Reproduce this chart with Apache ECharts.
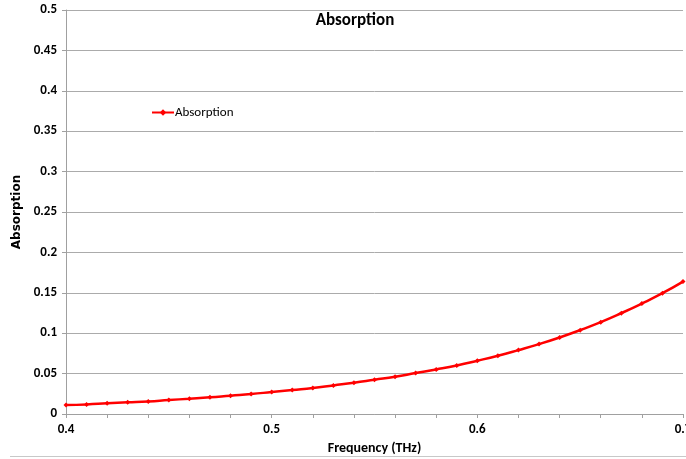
<!DOCTYPE html>
<html><head><meta charset="utf-8">
<script src="https://cdn.jsdelivr.net/npm/echarts@6/dist/echarts.min.js"></script>
<style>html,body{margin:0;padding:0;background:#fff}#c{width:686px;height:459px}</style>
</head><body><div id="c"></div>
<script>
var frequency = [0.40,0.41,0.42,0.43,0.44,0.45,0.46,0.47,0.48,0.49,0.50,0.51,0.52,0.53,0.54,0.55,0.56,0.57,0.58,0.59,0.60,0.61,0.62,0.63,0.64,0.65,0.66,0.67,0.68,0.69,0.70];
var absorption = [0.0111,0.0119,0.0132,0.0144,0.0156,0.0173,0.0189,0.0206,0.0227,0.0247,0.0272,0.0297,0.0321,0.0354,0.0387,0.0424,0.0461,0.0507,0.0552,0.0601,0.0659,0.0721,0.0791,0.0865,0.0947,0.1038,0.1137,0.1248,0.1367,0.1495,0.1639];
var seriesName = 'Absorption';
var F = "Carlito, 'Liberation Sans Narrow', 'DejaVu Sans Condensed', sans-serif";
var chart = echarts.init(document.getElementById('c'));
chart.setOption({
  animation: false,
  title: {text: 'Absorption', left: 350, top: 7, textAlign: 'center',
    textStyle: {fontFamily: F, fontSize: 17, fontWeight: 'bold', color: '#000'}},
  legend: {left: 146, top: 101, itemWidth: 22, itemHeight: 8, itemGap: 2,
    textStyle: {fontFamily: F, fontSize: 13, color: '#000', padding: [0,0,0,-4]},
    data: [seriesName]},
  grid: {left: 66, right: 3, top: 10, bottom: 45, outerBoundsMode: 'none', containLabel: false},
  xAxis: {type: 'value', min: 0.4, max: 0.7, interval: 0.1,
    name: 'Frequency (THz)', nameLocation: 'middle', nameGap: 27,
    nameTextStyle: {fontFamily: F, fontSize: 14, fontWeight: 'bold', color: '#000'},
    axisLine: {lineStyle: {color: '#a0a0a0'}},
    axisTick: {show: true, length: 4, lineStyle: {color: '#a0a0a0'}},
    minorTick: {show: true, splitNumber: 5, length: 4, lineStyle: {color: '#a0a0a0'}},
    splitLine: {show: false},
    axisLabel: {fontFamily: F, fontSize: 13, fontWeight: 'bold', color: '#000', margin: 9,
      formatter: function(v){return String(+v.toFixed(2));}}},
  yAxis: {type: 'value', min: 0, max: 0.5, interval: 0.05,
    name: 'Absorption', nameLocation: 'middle', nameGap: 42, nameRotate: 90,
    nameTextStyle: {fontFamily: "'DejaVu Sans', sans-serif", fontSize: 12, fontWeight: 'bold', color: '#000'},
    axisLine: {show: true, lineStyle: {color: '#a0a0a0'}},
    axisTick: {show: true, length: 4, lineStyle: {color: '#a0a0a0'}},
    splitLine: {show: true, lineStyle: {color: '#ababab', width: 1}},
    axisLabel: {fontFamily: F, fontSize: 13, fontWeight: 'bold', color: '#000', margin: 9,
      formatter: function(v){return String(+v.toFixed(2));}}},
  graphic: [{type: 'line', shape: {x1: 10, y1: 456.5, x2: 686, y2: 456.5}, style: {stroke: '#c8c8c8', lineWidth: 1}}],
  series: [{name: seriesName, type: 'line', smooth: true,
    data: frequency.map(function(f, i){return [f, absorption[i]];}),
    symbol: 'diamond', symbolSize: 5, showSymbol: true,
    lineStyle: {color: '#ff0000', width: 2.5},
    itemStyle: {color: '#ff0000'}}]
});
</script></body></html>
